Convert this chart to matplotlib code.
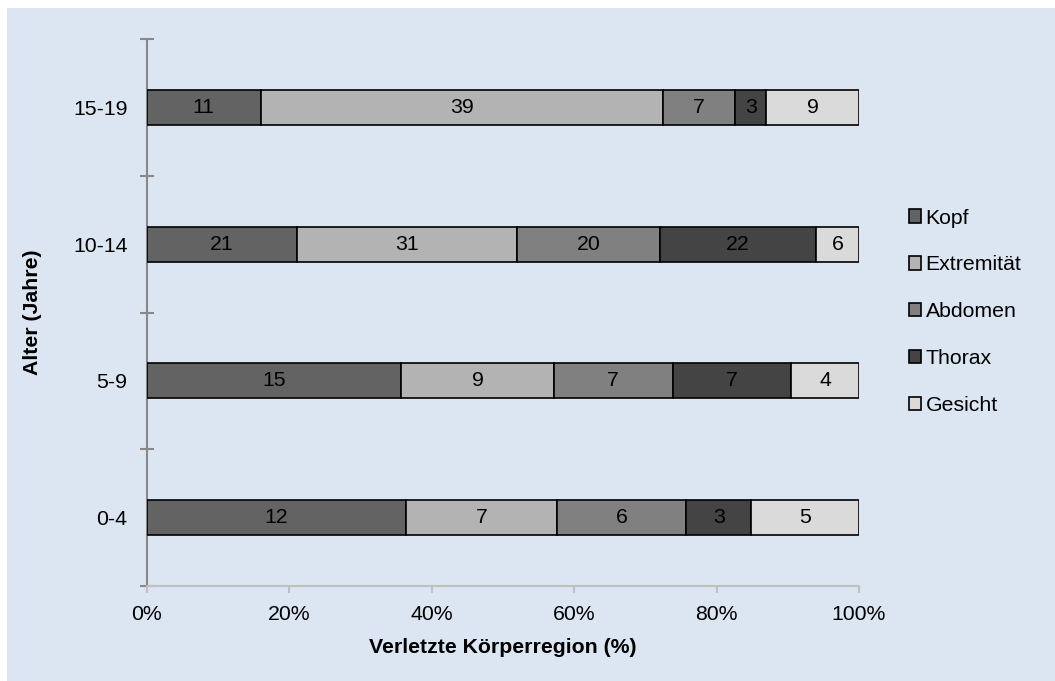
import matplotlib
matplotlib.use("Agg")
import matplotlib.pyplot as plt
from matplotlib.patches import Rectangle
import numpy as np

plt.rcParams['font.family'] = ['Liberation Sans', 'DejaVu Sans']

# data
age_groups = ["0-4", "5-9", "10-14", "15-19"]
regions = ["Kopf", "Extremität", "Abdomen", "Thorax", "Gesicht"]
kopf = [12, 15, 21, 11]
extremitaet = [7, 9, 31, 39]
abdomen = [6, 7, 20, 7]
thorax = [3, 7, 22, 3]
gesicht = [5, 4, 6, 9]
colors = ["#636363", "#b3b3b3", "#808080", "#444444", "#dadada"]

counts = np.array([kopf, extremitaet, abdomen, thorax, gesicht], dtype=float)
totals = counts.sum(axis=0)
shares = counts / totals * 100

fs = 15.3

fig = plt.figure(figsize=(10.55, 6.81), dpi=100)
fig.patch.set_facecolor("white")
# light blue background panel behind everything
fig.patches.append(Rectangle((7 / 1055, -1), 2, 2 - 8 / 681, transform=fig.transFigure,
                             facecolor="#dce6f2", edgecolor="none", zorder=-10))

ax = fig.add_axes([147 / 1055, 1 - 586 / 681, 712 / 1055, 547 / 681])
ax.set_facecolor("none")

y = np.arange(len(age_groups))
left = np.zeros(len(age_groups))
for i, name in enumerate(regions):
    bars = ax.barh(y, shares[i], left=left, height=0.255, color=colors[i],
                   edgecolor="black", linewidth=1.2, label=name, zorder=3)
    for j, b in enumerate(bars):
        ax.text(left[j] + shares[i][j] / 2, y[j], "%d" % counts[i][j],
                ha="center", va="center", fontsize=fs, color="black", zorder=4)
    left += shares[i]

ax.set_xlim(0, 100)
ax.set_ylim(-0.5, 3.5)

# axes styling (excel look)
for s in ["top", "right"]:
    ax.spines[s].set_visible(False)
ax.spines["left"].set_color("#888888")
ax.spines["left"].set_linewidth(1.5)
ax.spines["bottom"].set_color("#c0c0c0")
ax.spines["bottom"].set_linewidth(1.5)

ax.set_xticks(np.arange(0, 101, 20))
ax.set_xticklabels(["%d%%" % v for v in range(0, 101, 20)])
ax.tick_params(axis="x", direction="out", length=5, width=1.5, color="#c0c0c0",
               labelsize=fs, pad=9)

ax.set_yticks(y)
ax.set_yticklabels(age_groups)
ax.set_yticks(np.arange(-0.5, 3.6, 1), minor=True)
ax.tick_params(axis="y", which="major", length=0, labelsize=fs, pad=14)
ax.tick_params(axis="y", which="minor", direction="inout", length=10, width=1.5,
               color="#888888")

ax.set_xlabel("Verletzte Körperregion (%)", fontsize=fs, fontweight="bold", labelpad=10)
ax.set_ylabel("Alter (Jahre)", fontsize=fs, fontweight="bold", labelpad=22)

leg = fig.legend(loc="upper left", bbox_to_anchor=(900 / 1055, 1 - 200 / 681),
                 frameon=False, fontsize=fs, handlelength=0.6, handleheight=0.6,
                 handletextpad=0.2, labelspacing=1.31, borderaxespad=0)

fig.savefig("out.png", dpi=100)
